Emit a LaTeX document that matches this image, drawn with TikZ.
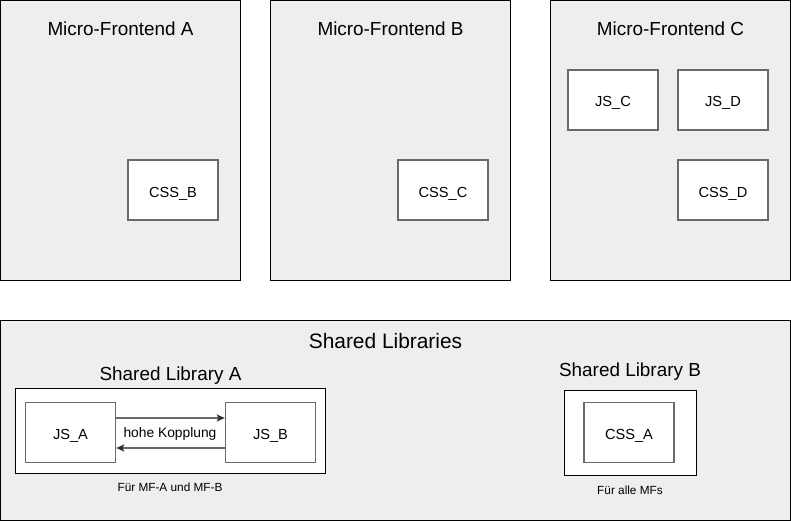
\documentclass[tikz,border=0pt]{standalone}
\usepackage{fontspec}
\setmainfont{Liberation Sans}
\usetikzlibrary{arrows.meta}
\definecolor{panelgray}{HTML}{EEEEEE}
\definecolor{innerline}{HTML}{6A6A6A}
\tikzset{
  panel/.style={draw=black, fill=panelgray, line width=1pt, inner sep=0pt},
  libbox/.style={draw=black, fill=white, line width=1pt, inner sep=0pt},
  itembox/.style={draw=innerline, fill=white, line width=1.4pt, inner sep=0pt,
    minimum width=90pt, minimum height=60pt, text height=14pt, text depth=0pt,
    font=\fontsize{14.6}{17}\selectfont},
  titletext/.style={inner sep=0pt, anchor=base, font=\fontsize{18.9}{22}\selectfont},
  bigtitle/.style={inner sep=0pt, anchor=base, font=\fontsize{20.9}{24}\selectfont},
  labeltext/.style={inner sep=0pt, anchor=base, font=\fontsize{13.8}{16}\selectfont},
  smalltext/.style={inner sep=0pt, anchor=base, font=\fontsize{11.8}{14}\selectfont},
  arr/.style={draw=innerline, line width=1.4pt, -{Stealth[length=8pt,width=7pt,inset=1.5pt,color=black!80,fill=black!80]}}
}
\begin{document}
\begin{tikzpicture}[x=1pt,y=-1pt]
\useasboundingbox (0,0) rectangle (791,521);
\fill[white] (0,0) rectangle (791,521);

% Micro-Frontend panels
\node[panel, minimum width=240pt, minimum height=280pt] (mfa) at (120.5,140.5) {};
\node[panel, minimum width=240pt, minimum height=280pt] (mfb) at (390.5,140.5) {};
\node[panel, minimum width=240pt, minimum height=280pt] (mfc) at (670.5,140.5) {};
\node[titletext] (mfat) at (120.5,35.3) {Micro-Frontend A};
\node[titletext] (mfbt) at (390.5,35.3) {Micro-Frontend B};
\node[titletext] (mfct) at (670.5,35.3) {Micro-Frontend C};

\node[itembox] (cssb) at (173,190) {CSS\_B};
\node[itembox] (cssc) at (443,190) {CSS\_C};
\node[itembox] (jsc) at (613,100) {JS\_C};
\node[itembox] (jsd) at (723,100) {JS\_D};
\node[itembox] (cssd) at (723,190) {CSS\_D};

% Shared Libraries panel
\node[panel, minimum width=790pt, minimum height=200pt] (shared) at (395.5,420.5) {};
\node[bigtitle] (sharedt) at (385.5,348.3) {Shared Libraries};

% Shared Library A
\node[titletext] (slat) at (170.5,380.7) {Shared Library A};
\node[libbox, minimum width=310pt, minimum height=85pt] (sla) at (170.5,431) {};
\node[itembox] (jsa) at (70.5,432.5) {JS\_A};
\node[itembox] (jsb) at (270.5,432.5) {JS\_B};
\draw[arr] ([yshift=14.5pt]jsa.east) -- ([yshift=14.5pt]jsb.west);
\draw[arr] ([yshift=-15.5pt]jsb.west) -- ([yshift=-15.5pt]jsa.east);
\node[labeltext] (kopp) at (170,437.7) {hohe Kopplung};
\node[smalltext] (slan) at (170,491.7) {Für MF-A und MF-B};

% Shared Library B
\node[titletext] (slbt) at (630,376.7) {Shared Library B};
\node[libbox, minimum width=132pt, minimum height=85pt] (slb) at (630.5,433) {};
\node[itembox] (cssa) at (629,432.5) {CSS\_A};
\node[smalltext] (slbn) at (630,494) {Für alle MFs};
\end{tikzpicture}
\end{document}
